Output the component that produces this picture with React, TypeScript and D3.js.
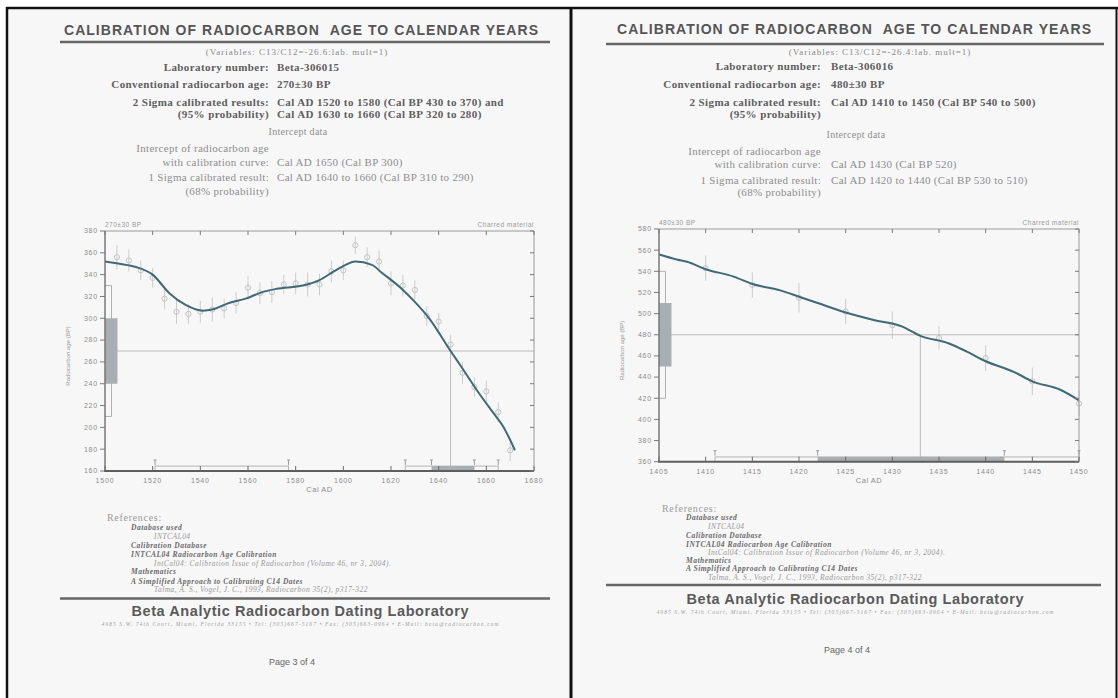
import React from "react";
import * as d3 from "d3";

const W = 1118;
const H = 698;
const SANS = "'Liberation Sans', Arial, Helvetica, sans-serif";
const SERIF = "'Liberation Serif', 'Times New Roman', serif";

// ---------- page 3 of 4 : Beta-306015 ----------
const curveYearsA = [1500, 1506, 1513, 1520, 1527, 1534, 1541, 1545, 1552, 1559, 1566, 1572, 1583, 1590, 1596, 1601, 1605, 1612, 1616, 1624, 1630, 1636, 1645, 1650, 1657, 1663, 1667, 1672];
const curveAgesA = [352, 350, 347, 340, 323, 312, 307, 308, 314, 318, 324, 327, 330, 335, 343, 349, 352, 349, 342, 328, 315, 300, 270, 254, 231, 213, 201, 179];
const dataYearsA = [1505, 1510, 1515, 1520, 1525, 1530, 1535, 1540, 1545, 1550, 1555, 1560, 1565, 1570, 1575, 1580, 1585, 1590, 1595, 1600, 1605, 1610, 1615, 1620, 1625, 1630, 1635, 1640, 1645, 1650, 1655, 1660, 1665, 1670];
const dataAgesA = [356, 353, 344, 337, 318, 306, 304, 306, 308, 309, 314, 328, 323, 324, 331, 332, 331, 331, 343, 344, 367, 356, 352, 332, 330, 326, 302, 297, 276, 250, 237, 233, 214, 179];
const dataErrA = [11, 10, 9, 9, 10, 11, 9, 10, 11, 9, 10, 11, 10, 10, 9, 10, 11, 10, 10, 9, 8, 9, 10, 11, 10, 9, 9, 8, 9, 10, 9, 10, 9, 10];
const xTicksA = [1500, 1520, 1540, 1560, 1580, 1600, 1620, 1640, 1660, 1680];
const yTicksA = [160, 180, 200, 220, 240, 260, 280, 300, 320, 340, 360, 380];
const sigma2A = [[1521, 1577], [1626, 1665]];
const sigma1A = [[1637, 1655]];

// ---------- page 4 of 4 : Beta-306016 ----------
const curveYearsB = [1405, 1407, 1408, 1410, 1413, 1415, 1418, 1420, 1422, 1425, 1428, 1431, 1433, 1436, 1438, 1440, 1443, 1445, 1448, 1450];
const curveAgesB = [556, 551, 549, 542, 535, 528, 522, 516, 510, 501, 494, 488, 479, 472, 464, 455, 445, 436, 428, 418];
const dataYearsB = [1410, 1415, 1420, 1425, 1430, 1435, 1440, 1445, 1450];
const dataAgesB = [543, 527, 515, 502, 489, 477, 458, 436, 415];
const dataErrB = [12, 12, 14, 12, 13, 11, 12, 13, 12];
const xTicksB = [1405, 1410, 1415, 1420, 1425, 1430, 1435, 1440, 1445, 1450];
const yTicksB = [360, 380, 400, 420, 440, 460, 480, 500, 520, 540, 560, 580];
const sigma2B = [[1411, 1450]];
const sigma1B = [[1422, 1442]];

// ---------- texts ----------
const titleText = "CALIBRATION OF RADIOCARBON \u00a0AGE TO CALENDAR YEARS";
const labelsA = ["Laboratory number:", "Conventional radiocarbon age:", "2 Sigma calibrated results:", "(95% probability)", "Intercept data", "Intercept of radiocarbon age", "with calibration curve:", "1 Sigma calibrated result:", "(68% probability)"];
const valuesA = ["Beta-306015", "270±30 BP", "Cal AD 1520 to 1580 (Cal BP 430 to 370) and", "Cal AD 1630 to 1660 (Cal BP 320 to 280)", "", "", "Cal AD 1650 (Cal BP 300)", "Cal AD 1640 to 1660 (Cal BP 310 to 290)", ""];
const labelsB = ["Laboratory number:", "Conventional radiocarbon age:", "2 Sigma calibrated result:", "(95% probability)", "Intercept data", "Intercept of radiocarbon age", "with calibration curve:", "1 Sigma calibrated result:", "(68% probability)"];
const valuesB = ["Beta-306016", "480±30 BP", "Cal AD 1410 to 1450 (Cal BP 540 to 500)", "", "", "", "Cal AD 1430 (Cal BP 520)", "Cal AD 1420 to 1440 (Cal BP 530 to 510)", ""];
const refTexts = ["References:", "Database used", "INTCAL04", "Calibration Database", "INTCAL04 Radiocarbon Age Calibration", "IntCal04: Calibration Issue of Radiocarbon (Volume 46, nr 3, 2004).", "Mathematics", "A Simplified Approach to Calibrating C14 Dates", "Talma, A. S., Vogel, J. C., 1993, Radiocarbon 35(2), p317-322"];
const refLevels = [0, 1, 2, 1, 1, 2, 1, 1, 2];
const labName = "Beta Analytic Radiocarbon Dating Laboratory";
const address = "4985 S.W. 74th Court, Miami, Florida 33155 • Tel: (305)667-5167 • Fax: (305)663-0964 • E-Mail: beta@radiocarbon.com";

const GRAYFILL = "#a8afb2";

type ChartProps = {
  id: string;
  x0: number; x1: number; y0: number; y1: number;
  xDomain: [number, number]; yDomain: [number, number];
  xTicks: number[]; yTicks: number[];
  curveYears: number[]; curveAges: number[];
  dataYears: number[]; dataAges: number[]; dataErr: number[];
  ageBox: [number, number]; ageBracket: [number, number];
  interceptAge: number; interceptYear: number;
  sigma2: number[][]; sigma1: number[][];
  topLeft: string;
};

const CalChart = (p: ChartProps) => {
  const x = d3.scaleLinear().domain(p.xDomain).range([p.x0, p.x1]);
  const y = d3.scaleLinear().domain(p.yDomain).range([p.y1, p.y0]);
  const line = d3
    .line<number>()
    .x((_, i) => x(p.curveYears[i]))
    .y((d) => y(d))
    .curve(d3.curveMonotoneX);
  const base = p.yDomain[0];
  const band = 4.5; // hauteur des barres d'intervalle (en années BP)
  const marks = [...p.sigma2.flat(), ...p.sigma1.flat()];
  const tickFont = { fontFamily: SANS, fontSize: 7, fill: "#8c8c8c", letterSpacing: 0.8 };

  return (
    <g>
      <defs>
        <clipPath id={`clip-${p.id}`}>
          <rect x={p.x0} y={p.y0} width={p.x1 - p.x0} height={p.y1 - p.y0} />
        </clipPath>
      </defs>

      {/* points de la courbe de calibration */}
      {p.dataYears.map((yr, i) => (
        <g key={i}>
          <line x1={x(yr)} x2={x(yr)} y1={y(p.dataAges[i] - p.dataErr[i])} y2={y(p.dataAges[i] + p.dataErr[i])} stroke="#cdcdcd" />
          <circle cx={x(yr)} cy={y(p.dataAges[i])} r={2.6} fill="none" stroke="#c4c4c4" />
        </g>
      ))}

      {/* intercept */}
      <line x1={p.x0} x2={p.x1} y1={y(p.interceptAge)} y2={y(p.interceptAge)} stroke="#bcbcbc" />
      <line x1={x(p.interceptYear)} x2={x(p.interceptYear)} y1={y(p.interceptAge)} y2={p.y1} stroke="#bcbcbc" />

      {/* courbe */}
      <path d={line(p.curveAges) || ""} fill="none" stroke="#3f6977" strokeWidth={2} clipPath={`url(#clip-${p.id})`} />

      {/* distribution de l'âge radiocarbone */}
      <path
        d={`M${p.x0},${y(p.ageBracket[1])}H${p.x0 + 6.5}V${y(p.ageBracket[0])}H${p.x0}`}
        fill="none"
        stroke="#b0b0b0"
      />
      <rect x={p.x0} y={y(p.ageBox[1])} width={12.5} height={y(p.ageBox[0]) - y(p.ageBox[1])} fill={GRAYFILL} />

      {/* intervalles calibrés */}
      {p.sigma2.map(([a, b], i) => (
        <rect key={"s2" + i} x={x(a)} y={y(base + band)} width={x(b) - x(a)} height={y(base) - y(base + band)} fill="none" stroke="#b4b4b4" />
      ))}
      {p.sigma1.map(([a, b], i) => (
        <rect key={"s1" + i} x={x(a)} y={y(base + band)} width={x(b) - x(a)} height={y(base) - y(base + band)} fill={GRAYFILL} />
      ))}
      {marks.map((yr, i) => (
        <path key={"m" + i} d={`M${x(yr)},${p.y1 - 6}V${p.y1 - 11}M${x(yr) - 1.5},${p.y1 - 11}H${x(yr) + 1.5}`} stroke="#9c9c9c" fill="none" />
      ))}

      {/* cadre */}
      <line x1={p.x0} x2={p.x1} y1={p.y0} y2={p.y0} stroke="#9a9a9a" />
      <line x1={p.x1} x2={p.x1} y1={p.y0} y2={p.y1} stroke="#9a9a9a" />
      <line x1={p.x0} x2={p.x0} y1={p.y0} y2={p.y1} stroke="#6f6f6f" strokeWidth={1.4} />
      <line x1={p.x0 - 1} x2={p.x1} y1={p.y1} y2={p.y1} stroke="#5e5e5e" strokeWidth={2} />

      {/* axes */}
      {p.yTicks.map((t) => (
        <g key={"y" + t}>
          <line x1={p.x0 - 5} x2={p.x0} y1={y(t)} y2={y(t)} stroke="#7a7a7a" />
          <line x1={p.x1 - 4} x2={p.x1} y1={y(t)} y2={y(t)} stroke="#7a7a7a" />
          <text x={p.x0 - 7} y={y(t) + 2.4} textAnchor="end" {...tickFont}>{t}</text>
        </g>
      ))}
      {p.xTicks.map((t) => (
        <g key={"x" + t}>
          <line x1={x(t)} x2={x(t)} y1={p.y1} y2={p.y1 - 5} stroke="#6a6a6a" />
          <line x1={x(t)} x2={x(t)} y1={p.y0} y2={p.y0 + 4} stroke="#7a7a7a" />
          <text x={x(t)} y={p.y1 + 12} textAnchor="middle" {...tickFont}>{t}</text>
        </g>
      ))}
      <text x={(p.x0 + p.x1) / 2} y={p.y1 + 21} textAnchor="middle" fontFamily={SANS} fontSize={7.5} fill="#8c8c8c" letterSpacing={0.5}>
        Cal AD
      </text>
      <text
        transform={`translate(${p.x0 - 35},${(p.y0 + p.y1) / 2 + 5}) rotate(-90)`}
        textAnchor="middle"
        fontFamily={SANS}
        fontSize={6}
        fill="#9a9a9a"
      >
        Radiocarbon age (BP)
      </text>
      <text x={p.x0} y={p.y0 - 4} fontFamily={SANS} fontSize={6.5} fill="#9a9a9a" letterSpacing={0.5}>
        {p.topLeft}
      </text>
      <text x={p.x1} y={p.y0 - 4} textAnchor="end" fontFamily={SANS} fontSize={6.5} fill="#9a9a9a" letterSpacing={0.5}>
        Charred material
      </text>
    </g>
  );
};

type PageLayout = {
  titleX: number; titleY: number; ruleX: [number, number]; ruleY: number;
  varX: number; varY: number; labelX: number; valueX: number; headX: number;
  rowY: number[]; refX: number[]; refY: number[];
  footY: number; footX: [number, number]; betaX: number; betaY: number; addrY: number;
  pageX: number; pageY: number;
};

const PageText = ({ L, variables, labels, values, page }: { L: PageLayout; variables: string; labels: string[]; values: string[]; page: string }) => (
  <g>
    <text x={L.titleX} y={L.titleY} textAnchor="middle" fontFamily={SANS} fontWeight="bold" fontSize={14} fill="#555" textLength={474} lengthAdjust="spacing">
      {titleText}
    </text>
    <line x1={L.ruleX[0]} x2={L.ruleX[1]} y1={L.ruleY} y2={L.ruleY} stroke="#666" strokeWidth={2.5} />
    <text x={L.varX} y={L.varY} textAnchor="middle" fontFamily={SERIF} fontSize={9} fill="#8a8a8a" letterSpacing={1}>
      {variables}
    </text>
    {labels.map((lab, i) => {
      const bold = i < 4;
      const common = {
        fontFamily: SERIF,
        fontSize: i === 4 ? 10 : 11,
        fontWeight: bold ? "bold" : "normal",
        fill: bold ? "#5e5e5e" : "#8e8e8e",
        letterSpacing: bold ? 0.4 : 0.3,
      };
      if (i === 4)
        return (
          <text key={i} x={L.headX} y={L.rowY[i]} textAnchor="middle" {...common}>{lab}</text>
        );
      return (
        <g key={i}>
          <text x={L.labelX} y={L.rowY[i]} textAnchor="end" {...common}>{lab}</text>
          {values[i] && <text x={L.valueX} y={L.rowY[i]} {...common}>{values[i]}</text>}
        </g>
      );
    })}
    {refTexts.map((t, i) => {
      const lvl = refLevels[i];
      return (
        <text
          key={"r" + i}
          x={L.refX[lvl]}
          y={L.refY[i]}
          fontFamily={SERIF}
          fontSize={lvl === 0 ? 10 : 7.5}
          fontStyle={lvl === 0 ? "normal" : "italic"}
          fontWeight={lvl === 1 ? "bold" : "normal"}
          fill={lvl === 1 ? "#6a6a6a" : "#9a9a9a"}
          letterSpacing={lvl === 0 ? 0.7 : lvl === 1 ? 0.5 : 0.45}
        >
          {t}
        </text>
      );
    })}
    <line x1={L.footX[0]} x2={L.footX[1]} y1={L.footY} y2={L.footY} stroke="#666" strokeWidth={2.5} />
    <text x={L.betaX} y={L.betaY} textAnchor="middle" fontFamily={SANS} fontWeight="bold" fontSize={14.5} fill="#5a5a5a" textLength={337} lengthAdjust="spacing">
      {labName}
    </text>
    <text x={L.betaX} y={L.addrY} textAnchor="middle" fontFamily={SERIF} fontStyle="italic" fontSize={5.5} fill="#a0a0a0" textLength={397} lengthAdjust="spacing">
      {address}
    </text>
    <text x={L.pageX} y={L.pageY} textAnchor="middle" fontFamily={SANS} fontSize={9} fill="#666">
      {page}
    </text>
  </g>
);

const layoutA: PageLayout = {
  titleX: 301, titleY: 34.5, ruleX: [60, 550], ruleY: 42,
  varX: 297, varY: 55, labelX: 269, valueX: 277, headX: 298,
  rowY: [70.5, 88, 106, 118, 135, 151.5, 165.5, 181, 195],
  refX: [107, 131, 154],
  refY: [520.5, 530, 539, 548, 557, 566, 574, 583.5, 592],
  footY: 598.5, footX: [60, 550], betaX: 300, betaY: 615.5, addrY: 626,
  pageX: 292, pageY: 665,
};

const layoutB: PageLayout = {
  titleX: 854, titleY: 34, ruleX: [606, 1104], ruleY: 44,
  varX: 880, varY: 55, labelX: 821, valueX: 831, headX: 856,
  rowY: [70, 87.5, 106, 118, 137.5, 155, 167.5, 183.5, 195.5],
  refX: [662, 686, 708],
  refY: [511.5, 520, 529, 537.5, 546.5, 555, 563, 571, 580],
  footY: 585, footX: [606, 1101], betaX: 855, betaY: 604, addrY: 614,
  pageX: 847, pageY: 652.5,
};

export default function App() {
  return (
    <svg width={W} height={H} style={{ position: "absolute", left: 0, top: 0, display: "block" }}>
      <rect width={W} height={H} fill="#ffffff" />
      <rect x={8} y={9} width={W - 9} height={H - 9} fill="#f7f7f7" />

      <PageText L={layoutA} variables="(Variables: C13/C12=-26.6:lab. mult=1)" labels={labelsA} values={valuesA} page="Page 3 of 4" />
      <PageText L={layoutB} variables="(Variables: C13/C12=-26.4:lab. mult=1)" labels={labelsB} values={valuesB} page="Page 4 of 4" />

      <CalChart
        id="a"
        x0={105} x1={534} y0={231} y1={471}
        xDomain={[1500, 1680]} yDomain={[160, 380]}
        xTicks={xTicksA} yTicks={yTicksA}
        curveYears={curveYearsA} curveAges={curveAgesA}
        dataYears={dataYearsA} dataAges={dataAgesA} dataErr={dataErrA}
        ageBox={[240, 300]} ageBracket={[210, 330]}
        interceptAge={270} interceptYear={1645}
        sigma2={sigma2A} sigma1={sigma1A}
        topLeft="270±30 BP"
      />
      <CalChart
        id="b"
        x0={659} x1={1079} y0={229} y1={461.7}
        xDomain={[1405, 1450]} yDomain={[360, 580]}
        xTicks={xTicksB} yTicks={yTicksB}
        curveYears={curveYearsB} curveAges={curveAgesB}
        dataYears={dataYearsB} dataAges={dataAgesB} dataErr={dataErrB}
        ageBox={[450, 510]} ageBracket={[420, 540]}
        interceptAge={480} interceptYear={1433}
        sigma2={sigma2B} sigma1={sigma1B}
        topLeft="480±30 BP"
      />

      {/* bordures du scan */}
      <line x1={6} x2={1118} y1={8} y2={8} stroke="#111" strokeWidth={2.5} />
      <line x1={7} x2={7} y1={7} y2={H} stroke="#111" strokeWidth={2.5} />
      <line x1={571} x2={571} y1={7} y2={H} stroke="#111" strokeWidth={3} />
      <line x1={1116.5} x2={1116.5} y1={7} y2={H} stroke="#111" strokeWidth={2} />
    </svg>
  );
}
